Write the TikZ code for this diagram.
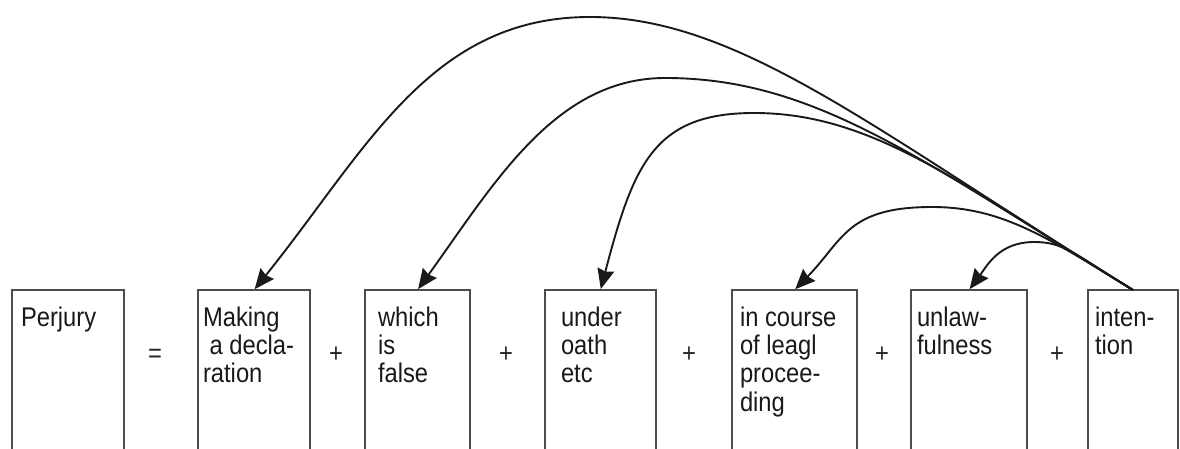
\documentclass[tikz,border=0pt]{standalone}
\usepackage{fontspec}
\setmainfont[FakeStretch=0.88]{Liberation Sans}
\usetikzlibrary{arrows.meta,positioning}

\begin{document}
\begin{tikzpicture}[x=1pt, y=-1pt, ->, >={Stealth[length=20pt,width=17pt,inset=2pt]},
                shorten >=1pt, line width=1.9pt, draw=black!90,
                box node/.style={draw=black!70, line width=2pt, anchor=north west,
                                 minimum height=200pt, inner sep=0pt, outer sep=0pt},
                text node/.style={anchor=north west, inner sep=0pt, outer sep=0pt, align=left,
                                  text=black!90, font=\fontsize{27}{28.3}\selectfont},
                sign node/.style={anchor=base, inner sep=0pt, text=black!85,
                                  font=\fontsize{27}{28.3}\selectfont}]

      \useasboundingbox (0,0) rectangle (1180,449);
      \clip (0,0) rectangle (1180,449);

      % the boxes
      \node[box node, minimum width=112pt] (perj) at (12,290) {};
      \node[box node, minimum width=112pt] (decl) at (198,290) {};
      \node[box node, minimum width=105pt] (fals) at (365,290) {};
      \node[box node, minimum width=111pt] (oath) at (545,290) {};
      \node[box node, minimum width=125pt] (proc) at (732,290) {};
      \node[box node, minimum width=116pt] (unlw) at (911,290) {};
      \node[box node, minimum width=90pt] (intn) at (1088,290) {};

      % the words in them
      \node[text node, below right=16.7pt and 9pt of perj.north west] (perjT) {Perjury};
      \node[text node, below right=16.7pt and 5pt of decl.north west] (declT) {Making\\~a decla-\\ration};
      \node[text node, below right=16.7pt and 13pt of fals.north west] (falsT) {which\\is\\false};
      \node[text node, below right=16.7pt and 16pt of oath.north west] (oathT) {under\\oath\\etc};
      \node[text node, below right=16.7pt and 8pt of proc.north west] (procT) {in course\\of leagl\\procee-\\ding};
      \node[text node, below right=16.7pt and 6pt of unlw.north west] (unlwT) {unlaw-\\fulness};
      \node[text node, below right=16.7pt and 7pt of intn.north west] (intnT) {inten-\\tion};

      % = and +
      \node[sign node] (eq) at (155,362) {=};
      \node[sign node] (pl1) at (336,362) {+};
      \node[sign node] (pl2) at (506,362) {+};
      \node[sign node] (pl3) at (689,362) {+};
      \node[sign node] (pl4) at (882,362) {+};
      \node[sign node] (pl5) at (1057,362) {+};

      % tops of the arcs
      \coordinate (top1) at (590,17);
      \coordinate (top2) at (665,78);
      \coordinate (top3) at (754,113);
      \coordinate (top4) at (932,207);
      \coordinate (top5) at (1034,242);

      \draw (intn.north) .. controls +(-255.6,-156.9) and +(150,0) .. (top1)
                         .. controls +(-160,0) and +(112.9,-140.4) .. (decl.north);
      \draw (intn.north) .. controls +(-213,-130.8) and +(150,0) .. (top2)
                         .. controls +(-110,0) and +(76,-105.4) .. (fals.north);
      \draw (intn.north) .. controls +(-170.4,-104.6) and +(120,0) .. (top3)
                         .. controls +(-100,0) and +(33,-125.7) .. (oath.north);
      \draw (intn.north) .. controls +(-85.2,-52.3) and +(70,0) .. (top4)
                         .. controls +(-85,0) and +(48.9,-50.1) .. (proc.north);
      \draw (intn.north) .. controls +(-59.6,-36.6) and +(30,0) .. (top5)
                         .. controls +(-35,0) and +(17.9,-24.1) .. (unlw.north);
\end{tikzpicture}
\end{document}
